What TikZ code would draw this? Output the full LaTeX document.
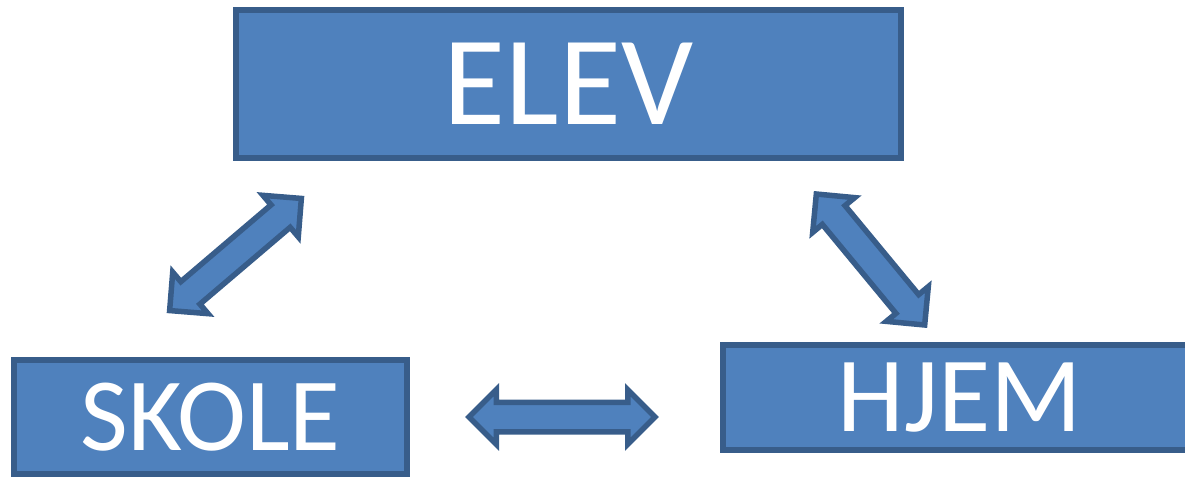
\documentclass[tikz,border=0pt]{standalone}
\usepackage{fontspec}
\setmainfont{Carlito}
\usetikzlibrary{shapes.arrows}
\definecolor{blue1}{RGB}{79, 129, 189}
\definecolor{blue2}{RGB}{56, 93, 138}

\begin{document}
\begin{tikzpicture}[x=1pt, y=-1pt, line width=5.5pt,
  box/.style={rectangle, fill=blue1, draw=blue2, text=white, inner sep=0pt},
  dblarrow/.style={double arrow, fill=blue1, draw=blue2, inner xsep=0pt,
    inner ysep=12pt, double arrow head extend=12.5pt, minimum width=50pt}]
  \useasboundingbox (0,0) rectangle (1185,477);
  \clip (0,0) rectangle (1185,477);

  \node[box, minimum width=665pt, minimum height=148pt] (elev) at (568.5,84)
{\fontsize{127}{130}\selectfont ELEV};
  \node[box, minimum width=393pt, minimum height=114pt] (skole) at (210.5,417)
{\fontsize{104}{110}\selectfont SKOLE};
  \node[box, minimum width=474pt, minimum height=105pt] (hjem) at (960,397.5)
{\fontsize{107}{110}\selectfont HJEM};

  \node[dblarrow, minimum height=173pt, rotate=40.4] (a1) at (235.5,254.5) {};
  \node[dblarrow, minimum height=170pt, rotate=-50.4] (a2) at (870.5,259.5) {};
  \node[dblarrow, minimum height=186pt] (a3) at (562,417) {};
\end{tikzpicture}
\end{document}
